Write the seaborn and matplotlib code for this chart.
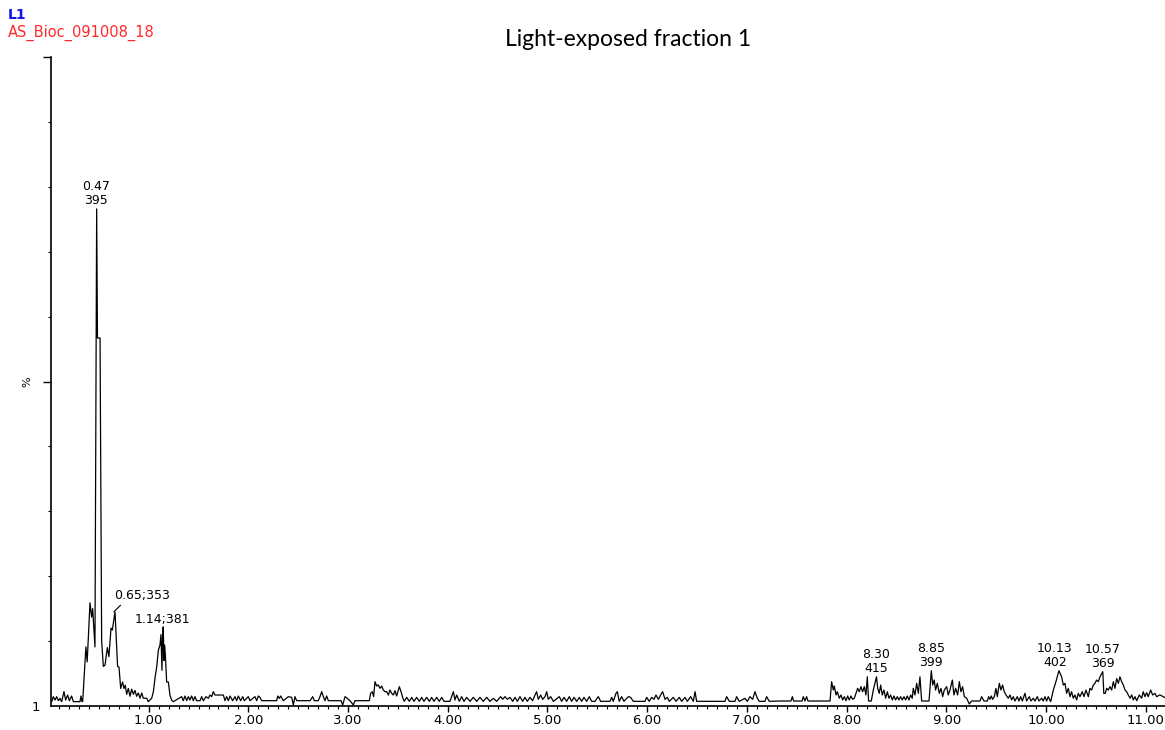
import matplotlib
matplotlib.use("Agg")
import matplotlib.pyplot as plt
from matplotlib.ticker import MultipleLocator
import seaborn as sns
import pandas as pd

# Chromatogram trace (retention time in min, relative intensity in %)
rt_start = [0.027, 0.043, 0.060, 0.077, 0.094, 0.110, 0.127, 0.150, 0.167, 0.187, 0.204,
            0.227, 0.244, 0.311, 0.321, 0.331]
pct_start = [0.67, 1.44, 0.92, 1.44, 0.82, 1.18, 0.67, 2.21, 0.92, 1.69, 0.82,
             1.54, 0.67, 0.67, 1.54, 0.67]

rt_main = [0.338, 0.352, 0.370, 0.383, 0.411, 0.428, 0.438, 0.461, 0.478, 0.486, 0.512,
           0.528, 0.545, 0.562, 0.585, 0.601, 0.622, 0.635, 0.662, 0.688, 0.702, 0.719]
pct_main = [0.7, 4.5, 9.1, 6.8, 15.9, 13.7, 15.0, 9.1, 76.6, 56.7, 56.7,
            10.0, 6.1, 6.3, 9.0, 7.6, 12.0, 11.7, 14.5, 6.1, 6.0, 2.7]

rt_second = [0.738, 0.752, 0.765, 0.779, 0.796, 0.812, 0.829, 0.846, 0.862, 0.879, 0.896,
             0.913, 0.930, 0.946, 0.963, 0.980, 0.996, 1.030, 1.047, 1.064, 1.080, 1.097,
             1.113, 1.123, 1.133, 1.140, 1.146, 1.153, 1.160, 1.168, 1.180, 1.197, 1.213,
             1.230, 1.247]
pct_second = [3.7, 2.7, 3.2, 1.8, 2.7, 1.5, 2.6, 1.8, 2.4, 1.5, 2.0,
              1.2, 2.0, 1.2, 1.2, 1.2, 0.67, 1.2, 2.2, 4.4, 6.0, 8.6,
              9.4, 11.0, 5.5, 11.5, 12.2, 7.0, 9.4, 7.6, 3.7, 3.7, 1.7,
              0.9, 0.67]

rt_mid = [1.331, 1.347, 1.364, 1.381, 1.398, 1.414, 1.431, 1.448, 1.464, 1.481, 1.515,
          1.531, 1.548, 1.575, 1.598, 1.615, 1.632, 1.648, 1.665, 1.749, 1.765, 1.782,
          1.799, 1.816, 1.842, 1.866, 1.882, 1.899, 1.922, 1.943, 1.959, 1.999, 2.016,
          2.066, 2.083, 2.100, 2.116, 2.133, 2.284, 2.294, 2.310, 2.324, 2.337, 2.350,
          2.401, 2.434, 2.451, 2.467, 2.484, 2.618, 2.645, 2.661, 2.701, 2.718, 2.735,
          2.752, 2.768, 2.785, 2.802, 2.929, 2.946, 2.969, 2.992, 3.019, 3.053, 3.069,
          3.213, 3.226, 3.243, 3.256, 3.270, 3.287, 3.303, 3.320, 3.337, 3.353, 3.370,
          3.387, 3.404, 3.420, 3.437, 3.454, 3.470, 3.487, 3.514, 3.531, 3.547, 3.564]
pct_mid = [1.44, 0.82, 1.54, 0.82, 1.44, 0.92, 1.54, 0.82, 1.44, 0.82, 0.82,
           1.44, 0.82, 1.44, 1.18, 1.69, 1.44, 2.21, 1.69, 1.69, 0.82, 1.44,
           0.82, 1.54, 0.82, 1.44, 0.82, 1.54, 0.82, 1.44, 0.82, 1.44, 0.82,
           1.44, 0.82, 1.54, 1.33, 0.82, 0.82, 1.54, 1.18, 1.54, 1.18, 0.82,
           1.44, 1.33, 0.15, 1.44, 0.82, 0.82, 1.44, 0.82, 0.82, 1.44, 2.21,
           1.44, 0.82, 1.54, 0.82, 0.82, 0.15, 1.44, 1.18, 0.82, 0.15, 0.82,
           0.82, 1.95, 2.21, 1.44, 3.75, 3.08, 3.24, 2.72, 3.08, 2.47, 2.21,
           2.21, 1.69, 2.47, 1.95, 1.69, 2.36, 1.54, 2.98, 2.21, 1.33, 0.72]

rt_flat = [3.588, 3.614, 3.638, 3.661, 3.688, 3.715, 3.738, 3.761, 3.788, 3.815, 3.838,
           3.862, 3.888, 3.915, 3.939, 3.962, 4.022, 4.056, 4.072, 4.089, 4.116, 4.139,
           4.163, 4.189, 4.223, 4.256, 4.290, 4.323, 4.356, 4.390, 4.423, 4.457, 4.490,
           4.530, 4.550, 4.574, 4.597, 4.624, 4.651, 4.674, 4.698, 4.724, 4.751, 4.774,
           4.798, 4.824, 4.851, 4.875, 4.891, 4.908, 4.932, 4.952, 4.975, 4.992, 5.008,
           5.032, 5.059, 5.119, 5.142, 5.166, 5.192, 5.219, 5.242, 5.266, 5.293, 5.319,
           5.343, 5.366, 5.393, 5.420, 5.443, 5.476, 5.510, 5.533, 5.627, 5.644, 5.660,
           5.687, 5.700, 5.720, 5.744, 5.767, 5.811, 5.834, 5.861, 5.978, 5.995, 6.021,
           6.045, 6.068, 6.088, 6.112, 6.135, 6.155, 6.179, 6.202, 6.222, 6.262, 6.289,
           6.322, 6.346, 6.379, 6.403, 6.436, 6.463, 6.480, 6.496, 6.780, 6.797, 6.824,
           6.881, 6.897, 6.924, 6.981, 7.004, 7.031, 7.058, 7.081, 7.105, 7.125, 7.181,
           7.198, 7.225]
pct_flat = [1.33, 0.72, 1.33, 0.72, 1.33, 0.72, 1.33, 0.72, 1.33, 0.72, 1.33,
            0.72, 1.33, 0.72, 1.33, 0.72, 0.72, 2.21, 0.92, 1.69, 0.72, 1.44,
            0.72, 1.33, 0.72, 1.33, 0.72, 1.33, 0.72, 1.33, 0.72, 1.18, 0.72,
            1.44, 1.03, 1.44, 1.03, 1.33, 0.72, 1.33, 0.72, 1.44, 0.72, 1.33,
            0.72, 1.33, 0.82, 1.69, 2.21, 1.03, 1.69, 1.03, 1.44, 2.21, 1.03,
            1.44, 0.72, 1.44, 0.72, 1.33, 0.72, 1.44, 0.72, 1.33, 0.72, 1.33,
            0.72, 1.33, 0.72, 1.44, 0.72, 0.72, 1.44, 0.72, 0.72, 1.33, 0.72,
            1.95, 2.21, 0.72, 1.44, 0.72, 1.44, 1.33, 0.72, 0.72, 1.33, 0.72,
            1.33, 1.03, 1.69, 1.03, 1.69, 2.21, 1.03, 1.33, 0.72, 1.33, 0.72,
            1.33, 0.72, 1.33, 0.72, 1.44, 0.72, 2.21, 0.72, 0.72, 1.44, 0.72,
            0.72, 1.44, 0.72, 1.18, 0.72, 1.44, 1.03, 2.21, 1.18, 0.72, 0.72,
            1.44, 0.72]

rt_late = [7.332, 7.442, 7.456, 7.469, 7.553, 7.566, 7.583, 7.599, 7.613, 7.834, 7.850,
           7.867, 7.877, 7.894, 7.907, 7.927, 7.944, 7.961, 7.977, 7.994, 8.011, 8.027,
           8.044, 8.061, 8.078, 8.094, 8.111, 8.128, 8.144, 8.161, 8.178, 8.194, 8.208,
           8.221, 8.248, 8.268, 8.300, 8.312, 8.328, 8.342, 8.358, 8.375, 8.392, 8.409,
           8.425, 8.442, 8.459, 8.475, 8.492, 8.509, 8.526, 8.542, 8.559, 8.576, 8.592,
           8.609, 8.626, 8.643, 8.659, 8.669, 8.686, 8.703, 8.720, 8.736, 8.753, 8.827,
           8.850, 8.864, 8.879, 8.893, 8.910, 8.930, 8.947, 8.964, 8.980, 9.004, 9.020,
           9.037, 9.061, 9.077, 9.094, 9.114, 9.131, 9.147, 9.164, 9.181, 9.204, 9.231,
           9.254, 9.338, 9.355, 9.378, 9.412, 9.425, 9.438, 9.452, 9.465, 9.482, 9.498,
           9.512, 9.532, 9.549, 9.565, 9.582, 9.599, 9.622, 9.639, 9.656, 9.672, 9.689,
           9.712, 9.729, 9.746, 9.763, 9.789, 9.806, 9.833, 9.850, 9.873, 9.890, 9.913,
           9.930, 9.957, 9.973, 9.990, 10.007, 10.023, 10.047, 10.074, 10.100, 10.130,
           10.157, 10.174, 10.191, 10.207, 10.224, 10.241, 10.257, 10.274, 10.291, 10.308,
           10.324, 10.341, 10.364, 10.381, 10.401, 10.425, 10.441, 10.458, 10.475, 10.491,
           10.508, 10.525, 10.542, 10.570, 10.580, 10.595, 10.609, 10.625, 10.642, 10.659,
           10.676, 10.692, 10.709, 10.726, 10.742, 10.759, 10.776, 10.793, 10.809, 10.826,
           10.843, 10.860, 10.876, 10.893, 10.910, 10.936, 10.960, 10.976, 10.993, 11.010,
           11.026, 11.050, 11.070, 11.093, 11.110, 11.143, 11.177, 11.204]
pct_late = [0.77, 0.77, 1.44, 0.77, 0.77, 1.44, 0.77, 1.44, 0.77, 0.77, 3.75,
            2.46, 3.08, 1.70, 2.20, 1.20, 1.70, 0.93, 1.44, 0.82, 1.54, 0.93,
            1.54, 1.03, 1.20, 1.95, 2.72, 2.20, 2.98, 2.20, 2.98, 1.70, 4.50,
            0.77, 0.77, 2.46, 4.50, 2.72, 1.95, 3.23, 1.70, 2.46, 1.20, 2.20,
            1.20, 1.70, 0.93, 1.54, 0.93, 1.44, 0.93, 1.44, 0.93, 1.44, 0.93,
            1.54, 0.93, 1.70, 1.20, 2.72, 1.70, 3.49, 1.95, 4.50, 0.77, 0.77,
            5.44, 3.23, 4.00, 2.46, 3.49, 1.95, 2.72, 1.44, 2.46, 2.98, 1.70,
            2.46, 4.00, 1.70, 2.72, 1.70, 3.75, 2.20, 2.98, 1.44, 1.20, 0.31,
            0.77, 0.77, 1.44, 0.77, 0.77, 1.44, 1.03, 1.54, 1.03, 1.44, 2.72,
            1.44, 3.49, 2.46, 3.23, 2.20, 1.70, 1.20, 1.70, 0.93, 1.44, 0.77,
            1.44, 0.77, 1.44, 0.77, 1.95, 0.77, 1.44, 0.77, 1.20, 0.77, 1.44,
            0.77, 1.20, 0.77, 1.44, 0.77, 1.44, 0.67, 2.46, 3.75, 5.44,
            4.50, 3.23, 3.49, 1.95, 2.72, 1.44, 2.20, 1.20, 1.70, 0.93,
            1.95, 1.44, 2.20, 1.44, 2.46, 1.44, 2.72, 2.46, 3.23, 3.49,
            4.00, 3.75, 4.50, 5.29, 1.95, 1.95, 2.72, 2.46, 2.98, 2.46,
            3.75, 2.72, 4.24, 3.49, 4.50, 3.75, 3.23, 2.46, 2.20, 1.70,
            1.20, 1.70, 0.93, 1.44, 0.82, 1.70, 1.20, 2.20, 1.44, 2.05,
            1.44, 2.46, 1.70, 1.95, 1.44, 1.70, 1.44, 1.20]

# Peak annotations: retention time, label, peak top (%)
peak_rt = [0.47, 0.65, 1.14, 8.30, 8.85, 10.13, 10.57]
peak_top = [76.6, 14.5, 12.2, 4.5, 5.44, 5.44, 5.29]
peak_text = ["0.47\n395", "0.65;353", "1.14;381", "8.30\n415", "8.85\n399",
             "10.13\n402", "10.57\n369"]

title = "Light-exposed fraction 1"
trace_name = "L1"
sample_name = "AS_Bioc_091008_18"
x_ticks = [1, 2, 3, 4, 5, 6, 7, 8, 9, 10, 11]

df = pd.DataFrame({
    "rt": rt_start + rt_main + rt_second + rt_mid + rt_flat + rt_late,
    "pct": pct_start + pct_main + pct_second + pct_mid + pct_flat + pct_late,
})

sns.set_style("ticks")
plt.rcParams["font.family"] = ["DejaVu Sans"]
plt.rcParams["text.color"] = "black"
plt.rcParams["xtick.color"] = "black"
plt.rcParams["ytick.color"] = "black"
plt.rcParams["axes.labelcolor"] = "black"

W, H = 1165, 730
fig = plt.figure(figsize=(W / 100, H / 100), dpi=100)
ax = fig.add_axes([51 / W, 24 / H, 1114 / W, 649 / H])

sns.lineplot(data=df, x="rt", y="pct", ax=ax, color="black", lw=0.9,
             estimator=None, sort=False)

ax.set_xlim(0.02, 11.194)
ax.set_ylim(0, 100)
ax.set_xlabel("")
ax.set_ylabel("%", fontsize=8, rotation=90)
ax.yaxis.set_label_coords(-0.017, 0.5)

for s in ["top", "right"]:
    ax.spines[s].set_visible(False)
for s in ["left", "bottom"]:
    ax.spines[s].set_linewidth(1.2)
    ax.spines[s].set_color("black")

# x axis: labelled minutes, minor ticks every 0.1
ax.set_xticks(x_ticks)
ax.set_xticklabels([f"{t:.2f}" for t in x_ticks], fontsize=9.5)
ax.xaxis.set_minor_locator(MultipleLocator(0.1))
ax.tick_params(axis="x", which="major", direction="out", length=4, width=1, pad=2)
ax.tick_params(axis="x", which="minor", direction="out", length=2.2, width=0.8)

# y axis: only "1" at the bottom, long ticks at 50 and 100
ax.set_yticks([0, 50, 100])
ax.set_yticklabels(["1", "", ""], fontsize=9.5)
ax.yaxis.set_minor_locator(MultipleLocator(10))
ax.tick_params(axis="y", which="major", direction="out", length=5.8, width=1, pad=2)
ax.tick_params(axis="y", which="minor", direction="out", length=2.5, width=0.8)
ax.yaxis.get_major_ticks()[0].tick1line.set_visible(False)

# peak labels
for rt, top, txt in zip(peak_rt, peak_top, peak_text):
    if txt == "0.65;353":
        ax.annotate(txt, xy=(rt, top), xytext=(0, 10), textcoords="offset pixels",
                    ha="left", va="bottom", fontsize=9,
                    arrowprops=dict(arrowstyle="-", color="black", lw=0.8,
                                    shrinkA=0, shrinkB=0, relpos=(0.18, 0)))
    elif txt == "1.14;381":
        ax.annotate(txt, xy=(rt, top), xytext=(0, 1), textcoords="offset pixels",
                    ha="center", va="bottom", fontsize=9)
    else:
        dx = -4 if txt.startswith("10.13") else 0
        ax.annotate(txt, xy=(rt, top), xytext=(dx, 2), textcoords="offset pixels",
                    ha="center", va="bottom", fontsize=9, linespacing=1.05)

fig.text(8 / W, 1 - 15 / H, trace_name, color="#1111ee", fontsize=10,
         fontweight="bold", va="center", ha="left")
fig.text(8 / W, 1 - 33 / H, sample_name, color="#ff2a2a", fontsize=10.5,
         va="center", ha="left")
fig.text(628 / W, 1 - 40 / H, title, fontsize=16.5, family="Lato",
         ha="center", va="center")

fig.savefig("out.png", dpi=100)
